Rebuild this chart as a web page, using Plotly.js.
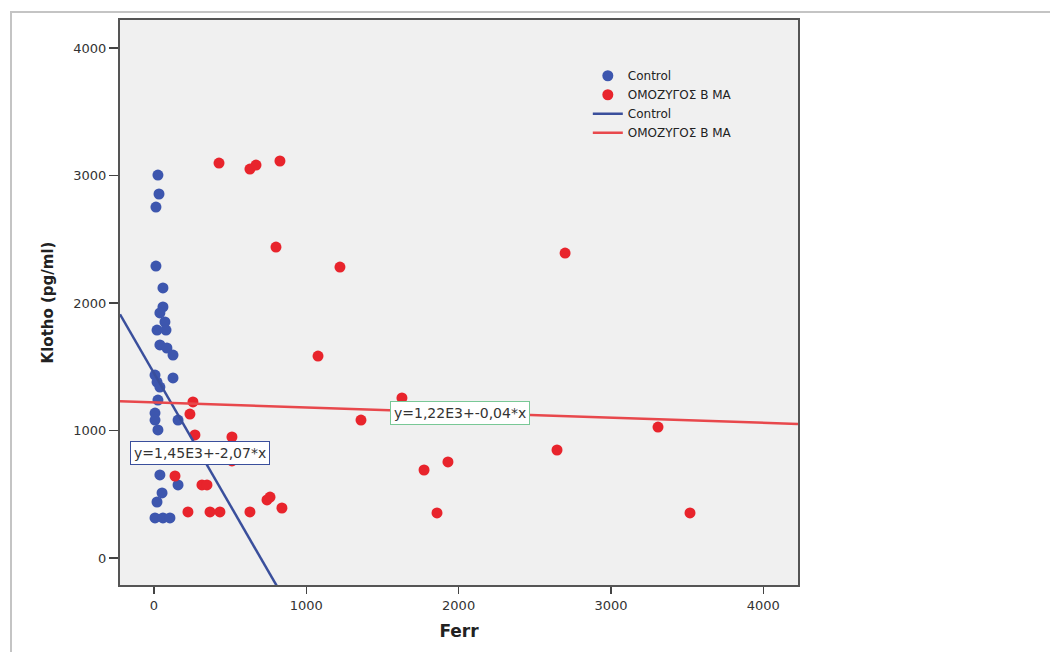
<!DOCTYPE html>
<html>
<head>
<meta charset="utf-8">
<script src="https://cdn.plot.ly/plotly-3.0.1.min.js"></script>
<style>
  html, body { margin: 0; padding: 0; background: #ffffff; }
  #wrap { position: relative; width: 1050px; height: 652px; overflow: hidden; }
  #chart { position: absolute; left: 0; top: 0; width: 1050px; height: 652px; }
  #frame { position: absolute; left: 10px; top: 11px; width: 1060px; height: 700px;
           border-top: 2px solid #c4c4c4; border-left: 2px solid #c4c4c4; pointer-events: none; }
</style>
</head>
<body>
<div id="wrap">
  <div id="chart"></div>
  <div id="frame"></div>
</div>
<script>
// ---- Data ----
const groupNames = ["Control", "ΟΜΟΖΥΓΟΣ Β ΜΑ"];

const controlFerr = [26, 33, 13, 13, 59, 59, 39, 72, 20, 79, 39, 85, 125, 7, 125, 20, 39, 26, 7, 7, 158, 26, 39, 158, 53, 20, 7, 59, 105];
const controlKlotho = [3004, 2855, 2753, 2290, 2118, 1969, 1922, 1851, 1788, 1788, 1671, 1647, 1592, 1435, 1412, 1380, 1341, 1239, 1137, 1082, 1082, 1004, 651, 573, 510, 439, 314, 314, 314];

const homoFerr = [427, 630, 670, 827, 801, 1221, 1077, 1359, 1628, 1773, 1930, 1858, 2646, 2699, 3309, 3519,
                  256, 236, 269, 512, 512, 138, 315, 348, 223, 368, 433, 630, 742, 762, 840];
const homoKlotho = [3098, 3051, 3082, 3114, 2439, 2282, 1584, 1082, 1255, 690, 753, 353, 847, 2392, 1027, 353,
                    1224, 1129, 965, 949, 761, 643, 573, 573, 361, 361, 361, 361, 455, 478, 392];

// Linear fit coefficients shown on the chart
const fitIntercept = [1450, 1220];
const fitSlope = [-2.07, -0.04];
const fitLabels = ["y=1,45E3+-2,07*x", "y=1,22E3+-0,04*x"];
const fitLabelX = [299, 2006];
const fitLabelY = [820, 1141];

// Axis settings
const xRange = [-223, 4228];
const yRange = [-212, 4220];
const xTicks = [0, 1000, 2000, 3000, 4000];
const yTicks = [0, 1000, 2000, 3000, 4000];

const pointColors = ["#3d56ae", "#e8242c"];
const lineColors = ["#3a4f9c", "#e8484c"];
const boxColors = ["#3a4f9c", "#79c896"];

const wideFont = "DejaVu Sans, Verdana, sans-serif";

function fitLine(i) {
  const xs = [xRange[0], xRange[1]];
  return { x: xs, y: xs.map(v => fitIntercept[i] + fitSlope[i] * v) };
}

const traces = [
  { type: "scatter", mode: "markers", name: groupNames[0], x: controlFerr, y: controlKlotho,
    marker: { color: pointColors[0], size: 11, line: { width: 0 } } },
  { type: "scatter", mode: "markers", name: groupNames[1], x: homoFerr, y: homoKlotho,
    marker: { color: pointColors[1], size: 11, line: { width: 0 } } },
  Object.assign({ type: "scatter", mode: "lines", name: groupNames[0],
    line: { color: lineColors[0], width: 2.5 } }, fitLine(0)),
  Object.assign({ type: "scatter", mode: "lines", name: groupNames[1],
    line: { color: lineColors[1], width: 2.5 } }, fitLine(1))
];

const annotations = fitLabels.map((t, i) => ({
  x: fitLabelX[i], y: fitLabelY[i], xref: "x", yref: "y", text: t, showarrow: false,
  font: { family: wideFont, size: 14, color: "#333" },
  bgcolor: "#ffffff", bordercolor: boxColors[i], borderwidth: 1, borderpad: 3
}));

const layout = {
  width: 1050, height: 652,
  margin: { l: 120, r: 252, t: 20, b: 67 },
  paper_bgcolor: "rgba(0,0,0,0)",
  plot_bgcolor: "#f0f0f0",
  font: { family: wideFont, color: "#333" },
  showlegend: true,
  legend: {
    x: 0.69, y: 0.927, xanchor: "left", yanchor: "top",
    bgcolor: "rgba(0,0,0,0)", borderwidth: 0, tracegroupgap: 0,
    font: { family: wideFont, size: 12, color: "#222" }
  },
  xaxis: {
    range: xRange, tickvals: xTicks, ticktext: xTicks.map(String),
    showgrid: false, zeroline: false,
    showline: true, mirror: true, linecolor: "#555", linewidth: 2,
    ticks: "outside", ticklen: 7, tickwidth: 1.5, tickcolor: "#444",
    tickfont: { family: wideFont, size: 13, color: "#333" },
    title: { text: "<b>Ferr</b>", font: { family: wideFont, size: 17, color: "#222" }, standoff: 14 }
  },
  yaxis: {
    range: yRange, tickvals: yTicks, ticktext: yTicks.map(String),
    showgrid: false, zeroline: false,
    showline: true, mirror: true, linecolor: "#555", linewidth: 2,
    ticks: "outside", ticklen: 9, tickwidth: 1.5, tickcolor: "#444",
    tickfont: { family: wideFont, size: 13, color: "#333" },
    title: { text: "<b>Klotho (pg/ml)</b>", font: { family: wideFont, size: 15, color: "#222" }, standoff: 16 }
  },
  annotations: annotations
};

Plotly.newPlot("chart", traces, layout, { displayModeBar: false, staticPlot: true });
</script>
</body>
</html>
